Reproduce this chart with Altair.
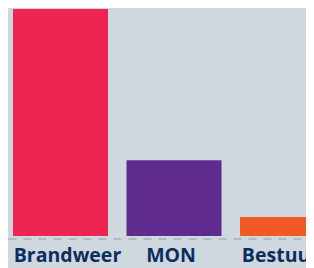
import altair as alt
import pandas as pd

categories = ["Brandweer", "MON", "Bestuur"]
values = [60, 20, 5]
colors = ["#ee2552", "#5f2b8e", "#f15a24"]

df = pd.DataFrame({"categorie": categories, "waarde": values})

label_offset = {
    "condition": [
        {"test": "datum.value === 'Brandweer'", "value": 7},
        {"test": "datum.value === 'MON'", "value": -3},
    ],
    "value": -7,
}

chart = alt.Chart(df).mark_bar().encode(
    x=alt.X(
        "categorie:N",
        sort=categories,
        scale=alt.Scale(range=[0, 332], paddingInner=0.163, paddingOuter=0.044),
        axis=alt.Axis(
            title=None,
            labelAngle=0,
            ticks=False,
            offset=2.5,
            labelPadding=8,
            labelOffset=label_offset,
            labelFont="Open Sans",
            labelFontWeight="bold",
            labelFontSize=19.5,
            labelColor="#0b2f5c",
            labelOverlap=False,
            labelBound=False,
            labelFlush=False,
            domainColor="#a3b3bc",
            domainWidth=1.5,
            domainDash=[8, 7],
        ),
    ),
    y=alt.Y(
        "waarde:Q",
        scale=alt.Scale(domain=[0, 60], nice=False),
        axis=None,
    ),
    color=alt.Color(
        "categorie:N",
        scale=alt.Scale(domain=categories, range=colors),
        legend=None,
    ),
).properties(
    width=298,
    height=227,
    background="#cfd8df",
    padding={"top": 1, "left": 0, "right": 0, "bottom": 32},
    autosize=alt.AutoSizeParams(type="none"),
).configure_view(stroke=None)

chart.save("out.html", embed_options={"renderer": "svg", "actions": False})
